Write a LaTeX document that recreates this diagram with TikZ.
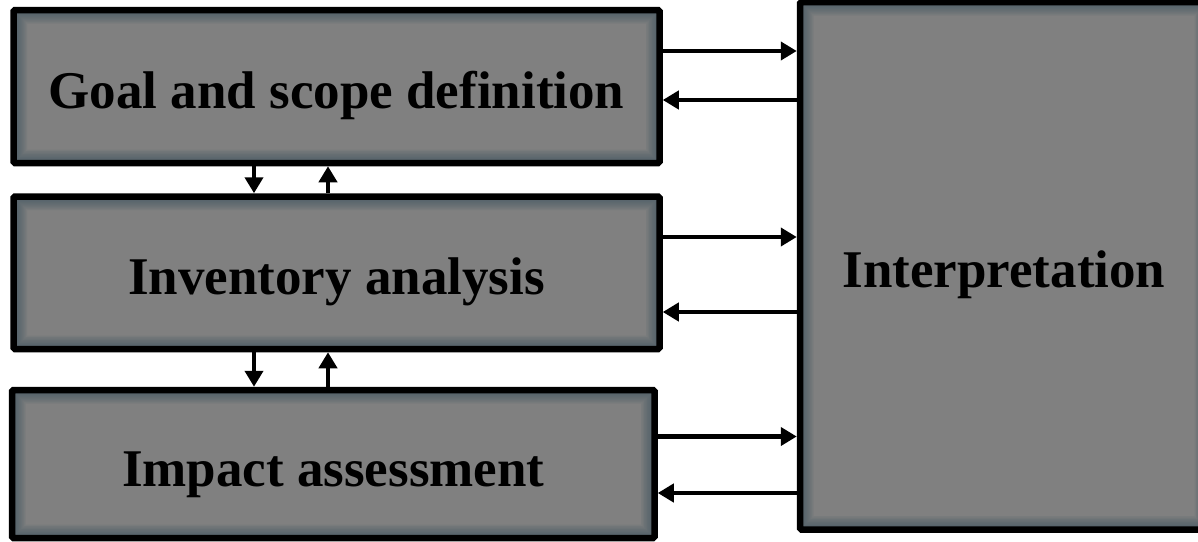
\documentclass[tikz,border=0pt]{standalone}
\usepackage{fontspec}
\setmainfont{Liberation Serif}
\usetikzlibrary{arrows.meta}
\definecolor{boxfill}{HTML}{808080}
\definecolor{boxglow}{RGB}{62,84,96}
\begin{document}
\begin{tikzpicture}[x=1pt,y=-1pt,
  stage/.style={draw=black, line width=6.5pt, fill=boxfill, rounded corners=1.5pt,
    inner sep=0pt, text height=44pt, text depth=0pt,
    font=\fontsize{53}{60}\selectfont\bfseries,
    path picture={
      \foreach \i in {1,...,9}
        \draw[boxglow, opacity=0.11, line width=\i*3pt]
          (path picture bounding box.south west) rectangle (path picture bounding box.north east);
    }},
  flow/.style={line width=4.8pt, -{Triangle[length=16pt,width=18pt]}}]
  \useasboundingbox[fill=white] (0,0) rectangle (1198,541);

  % the four phases
  \node[stage, minimum width=646pt, minimum height=153pt] (goal) at (336.5,86.5) {Goal and scope definition};
  \node[stage, minimum width=646pt, minimum height=152.5pt] (inv) at (336.5,272.75) {Inventory analysis};
  \node[stage, minimum width=642.5pt, minimum height=148pt] (imp) at (333.25,464) {Impact assessment};
  \node[stage, minimum width=408pt, minimum height=527.5pt] (interp) at (1004,265.75) {Interpretation};

  % heights of the horizontal links and positions of the vertical ones
  \coordinate (g1) at (0,51);    \coordinate (g2) at (0,100);
  \coordinate (i1) at (0,237);   \coordinate (i2) at (0,312);
  \coordinate (m1) at (0,436.5); \coordinate (m2) at (0,493);
  \coordinate (dn) at (254,0);   \coordinate (up) at (328,0);

  % links to and from the interpretation phase
  \draw[flow] (goal.east |- g1) -- (interp.west |- g1);
  \draw[flow] (interp.west |- g2) -- (goal.east |- g2);
  \draw[flow] (inv.east |- i1) -- (interp.west |- i1);
  \draw[flow] (interp.west |- i2) -- (inv.east |- i2);
  \draw[flow] (imp.east |- m1) -- (interp.west |- m1);
  \draw[flow] (interp.west |- m2) -- (imp.east |- m2);

  % links between neighbouring phases
  \draw[flow] (dn |- goal.south) -- (dn |- inv.north);
  \draw[flow] (up |- inv.north) -- (up |- goal.south);
  \draw[flow] (dn |- inv.south) -- (dn |- imp.north);
  \draw[flow] (up |- imp.north) -- (up |- inv.south);
\end{tikzpicture}
\end{document}
